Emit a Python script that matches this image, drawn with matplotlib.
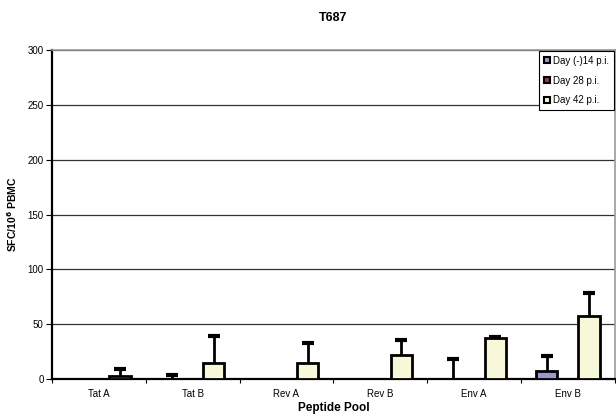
import matplotlib
matplotlib.use("Agg")
import matplotlib.pyplot as plt
from matplotlib.patches import Patch
import numpy as np

plt.rcParams['font.family'] = ['Liberation Sans', 'DejaVu Sans']

pools = ["Tat A", "Tat B", "Rev A", "Rev B", "Env A", "Env B"]
series = ["Day (-)14 p.i.", "Day 28 p.i.", "Day 42 p.i."]
colors = ["#9999CC", "#993366", "#F7F7DA"]

day_m14 = [0, 0, 0, 0, 0, 7.5]
day_m14_err = [0, 3.5, 0, 0, 18, 13.5]
day_28 = [0, 0, 0, 0, 0, 0]
day_28_err = [0, 0, 0, 0, 0, 0]
day_42 = [3, 15, 15, 22, 37.5, 57.5]
day_42_err = [6, 24, 17.5, 14, 0.5, 20.5]

values = [day_m14, day_28, day_42]
errors = [day_m14_err, day_28_err, day_42_err]

fig = plt.figure(figsize=(6.16, 4.17), dpi=100)
ax = fig.add_axes([0.0844, 0.0911, 0.9136, 0.789])

x = np.arange(len(pools))
width = 0.225
offsets = [-width, 0, width]

for vals, errs, col, off in zip(values, errors, colors, offsets):
    pos = x + off
    ax.bar(pos, vals, width=width, color=col, edgecolor="black",
           linewidth=2, zorder=3)
    # upper-only error bars with a single cap on top
    for p, v, e in zip(pos, vals, errs):
        if e > 0:
            ax.vlines(p, v, v + e, color="black", linewidth=2, zorder=4)
            ax.plot([p], [v + e], marker="_", markersize=8,
                    markeredgewidth=3, color="black", zorder=4)

ax.set_xlim(-0.5, len(pools) - 0.5)
ax.set_ylim(0, 300)
ax.set_yticks(np.arange(0, 301, 50))
ax.yaxis.grid(True, color="#333333", linewidth=0.9, zorder=0)
ax.set_axisbelow(True)

# category boundaries as major ticks, names centred between them
ax.set_xticks(np.arange(-0.5, len(pools), 1))
ax.set_xticklabels([])
ax.set_xticks(x, minor=True)
ax.set_xticklabels(pools, minor=True)
ax.tick_params(axis="x", which="minor", length=0, labelsize=7, pad=7)
ax.tick_params(axis="x", which="major", length=3, width=0.8, direction="out")
ax.tick_params(axis="y", labelsize=7, length=4, width=0.8, pad=2)

for side in ["left", "bottom"]:
    ax.spines[side].set_linewidth(1.6)
    ax.spines[side].set_color("black")
ax.spines["top"].set_color("#999999")
ax.spines["top"].set_linewidth(1.2)
ax.spines["right"].set_color("#999999")
ax.spines["right"].set_linewidth(1.2)

ax.set_title("T687", fontsize=9, fontweight="bold", pad=21)
ax.set_xlabel("Peptide Pool", fontsize=8.5, fontweight="bold", labelpad=2)
ax.set_ylabel("SFC/10$^{\\mathbf{6}}$ PBMC", fontsize=7.5, fontweight="bold", labelpad=6)

handles = [Patch(facecolor=c, edgecolor="black", linewidth=1.5) for c in colors]
leg = ax.legend(handles, series, loc="upper right", fontsize=7,
                handlelength=0.6, handleheight=0.6, handletextpad=0.3,
                labelspacing=1.0, borderpad=0.5, fancybox=False,
                framealpha=1, edgecolor="black", borderaxespad=0.1)
leg.get_frame().set_linewidth(0.8)

fig.savefig("out.png", dpi=100)
